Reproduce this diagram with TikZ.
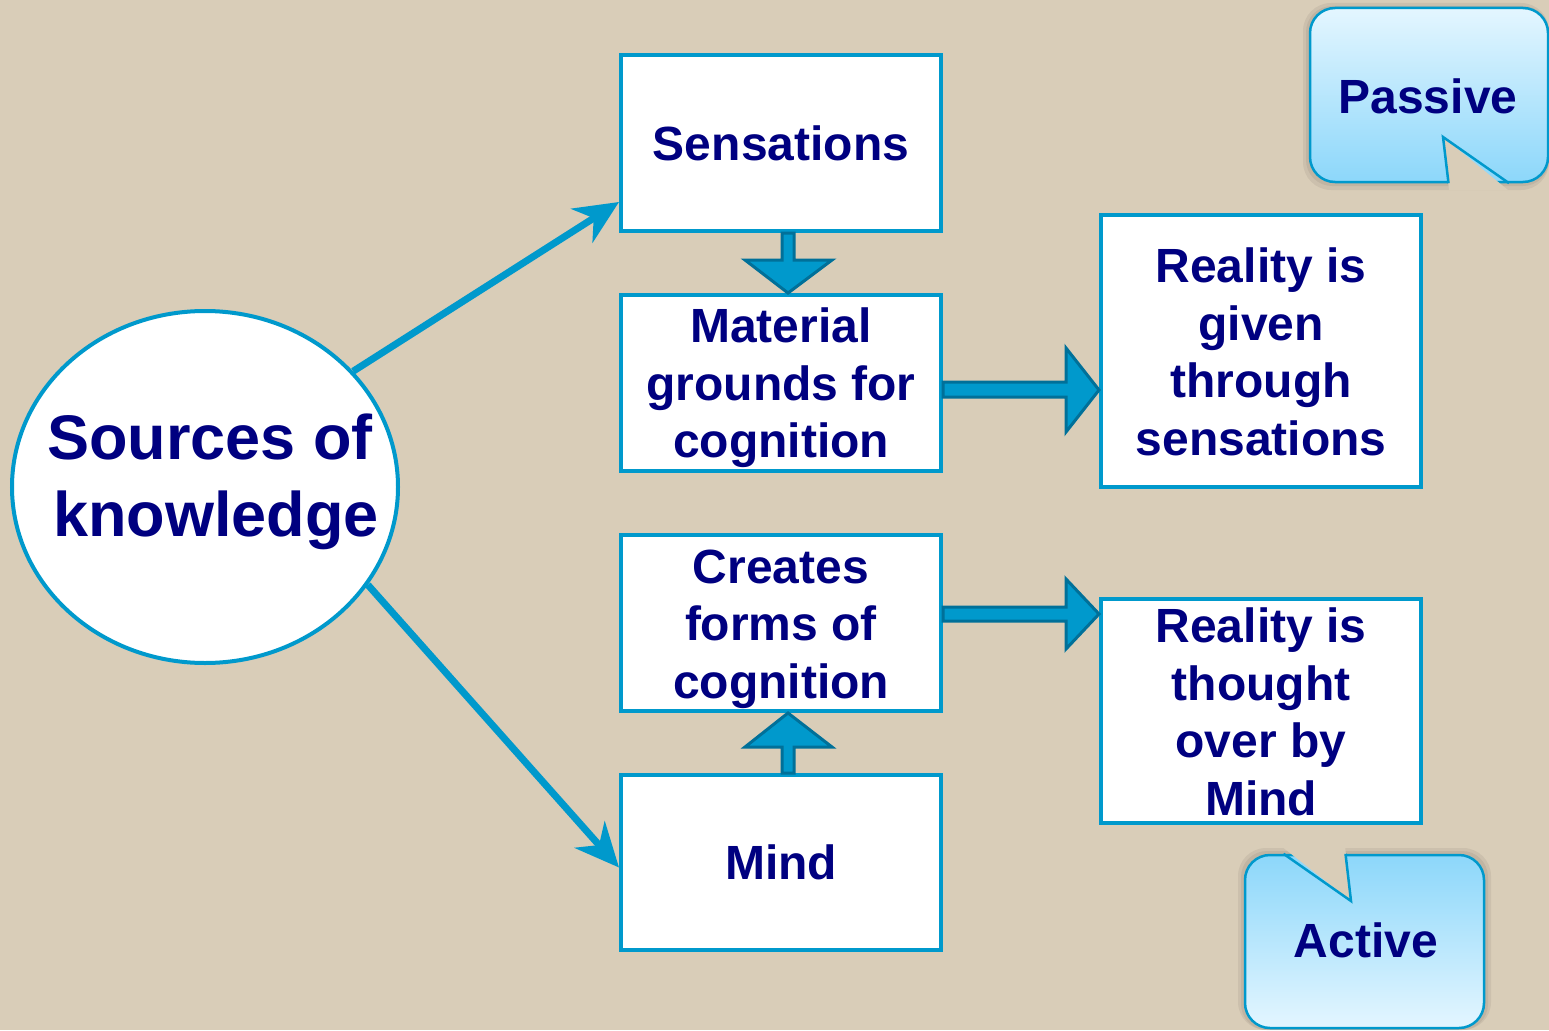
\documentclass[tikz,border=0pt]{standalone}
\usepackage{fontspec}
\setmainfont{Liberation Sans}
\usetikzlibrary{arrows.meta,shapes.geometric,calc}
\definecolor{bgc}{RGB}{217,205,184}
\definecolor{frame}{RGB}{0,153,204}
\definecolor{darkframe}{RGB}{0,112,153}
\definecolor{navy}{RGB}{0,0,128}
\definecolor{calloutlight}{RGB}{228,246,255}
\definecolor{calloutdark}{RGB}{140,215,250}
\tikzset{
  box/.style={draw=frame, line width=4pt, fill=white, minimum width=320pt, inner sep=0pt},
  txt/.style={align=center, text=navy, font=\bfseries\fontsize{48}{57.5}\selectfont, inner sep=0pt},
  src/.style={draw=frame, line width=4pt, fill=white, ellipse, minimum width=386pt, minimum height=352pt, inner sep=0pt},
  srctxt/.style={align=center, text=navy, font=\bfseries\fontsize{63}{77}\selectfont, inner sep=0pt},
  link/.style={draw=frame, line width=7pt, -{Stealth[length=44pt,width=40pt,inset=14pt]}},
  blockarrow/.style={fill=frame, draw=darkframe, line width=3pt, line join=miter},
  callout/.style={draw=frame, line width=2.5pt},
  notch/.style={fill=bgc},
  notchedge/.style={draw=frame, line width=2.5pt, line join=miter},
  lbl/.style={text=navy, font=\bfseries\fontsize{48}{57.5}\selectfont, inner sep=0pt},
}
\begin{document}
\begin{tikzpicture}[x=1pt,y=-1pt]
\fill[bgc] (0,0) rectangle (1549,1030);
\useasboundingbox (0,0) rectangle (1549,1030);

% source ellipse
\node[src] (src) at (205,487) {};
\node[srctxt] (srct) at (210,482) {Sources of\\ \hspace*{12pt}knowledge};

% boxes
\node[box, minimum height=176pt] (sens) at (781,143) {};
\node[txt] (senst) at (sens) {Sensations};
\node[box, minimum height=176pt] (mat) at (781,383) {};
\node[txt] (matt) at ([yshift=-5pt]mat.center) {Material\\grounds for\\cognition};
\node[box, minimum height=176pt] (cre) at (781,623) {};
\node[txt] (cret) at ([yshift=-6pt]cre.center) {Creates\\forms of\\cognition};
\node[box, minimum height=175pt] (mind) at (781,862.5) {};
\node[txt] (mindt) at (mind) {Mind};
\node[box, minimum height=272pt] (given) at (1261,351) {};
\node[txt] (givent) at ([yshift=-1pt]given.center) {Reality is\\given\\through\\sensations};
\node[box, minimum height=224pt] (thought) at (1261,711) {};
\node[txt] (thoughtt) at ([yshift=-1pt]thought.center) {Reality is\\thought\\over by\\Mind};

% thin arrows
\coordinate (sensin) at ([yshift=31pt]sens.south west);
\draw[link] (src.38) -- (sensin);
\draw[link] (src.-31.5) -- ([yshift=-5pt]mind.west);

% block arrow down
\draw[blockarrow] ([xshift=1pt]sens.south) -- ([xshift=1pt,yshift=33pt]mat.north) -- ([xshift=-36pt,yshift=33pt]mat.north)
  -- ([xshift=7pt]mat.north) -- ([xshift=51pt,yshift=33pt]mat.north) -- ([xshift=13pt,yshift=33pt]mat.north)
  -- ([xshift=13pt]sens.south) -- cycle;
% block arrow up
\draw[blockarrow] ([xshift=1pt]mind.north) -- ([xshift=1pt,yshift=-34pt]cre.south) -- ([xshift=-36pt,yshift=-34pt]cre.south)
  -- ([xshift=7pt]cre.south) -- ([xshift=51pt,yshift=-34pt]cre.south) -- ([xshift=13pt,yshift=-34pt]cre.south)
  -- ([xshift=13pt]mind.north) -- cycle;
% block arrows right
\draw[blockarrow] ([yshift=1pt]mat.east) -- ([xshift=-33pt,yshift=1pt]given.west |- mat.east) -- ([xshift=-33pt,yshift=35pt]given.west |- mat.east)
  -- ([yshift=-7pt]given.west |- mat.east) -- ([xshift=-33pt,yshift=-49pt]given.west |- mat.east) -- ([xshift=-33pt,yshift=-14pt]given.west |- mat.east)
  -- ([yshift=-14pt]mat.east) -- cycle;
\draw[blockarrow] ([yshift=16pt]cre.east) -- ([xshift=-33pt,yshift=16pt]thought.west |- cre.east) -- ([xshift=-33pt,yshift=44pt]thought.west |- cre.east)
  -- ([yshift=9pt]thought.west |- cre.east) -- ([xshift=-33pt,yshift=-26pt]thought.west |- cre.east) -- ([xshift=-33pt,yshift=2pt]thought.west |- cre.east)
  -- ([yshift=2pt]cre.east) -- cycle;

% callout Passive
\fill[black, opacity=0.06, rounded corners=28pt] (1303,3) rectangle (1549,190);
\fill[black, opacity=0.06, rounded corners=26pt] (1306,6) rectangle (1549,186);
\draw[callout, rounded corners=25pt, top color=calloutlight, bottom color=calloutdark] (1310,8) rectangle (1548,182);
\fill[notch] (1449,190) -- (1443,137) -- (1508,190) -- cycle;
\draw[notchedge] (1448.5,183.2) -- (1443,137) -- (1509,183.2);
\node[lbl] (passive) at (1428,96) {Passive};

% callout Active
\fill[black, opacity=0.06, rounded corners=28pt] (1238,848) rectangle (1491,1030);
\fill[black, opacity=0.06, rounded corners=26pt] (1241,851) rectangle (1488,1030);
\draw[callout, rounded corners=25pt, top color=calloutdark, bottom color=calloutlight] (1245,855) rectangle (1484,1028);
\fill[notch] (1281,846) -- (1351,901) -- (1345,846) -- cycle;
\draw[notchedge] (1283.5,853.8) -- (1351,901) -- (1345.5,853.8);
\node[lbl] (active) at (1366,940) {Active};
\end{tikzpicture}
\end{document}
